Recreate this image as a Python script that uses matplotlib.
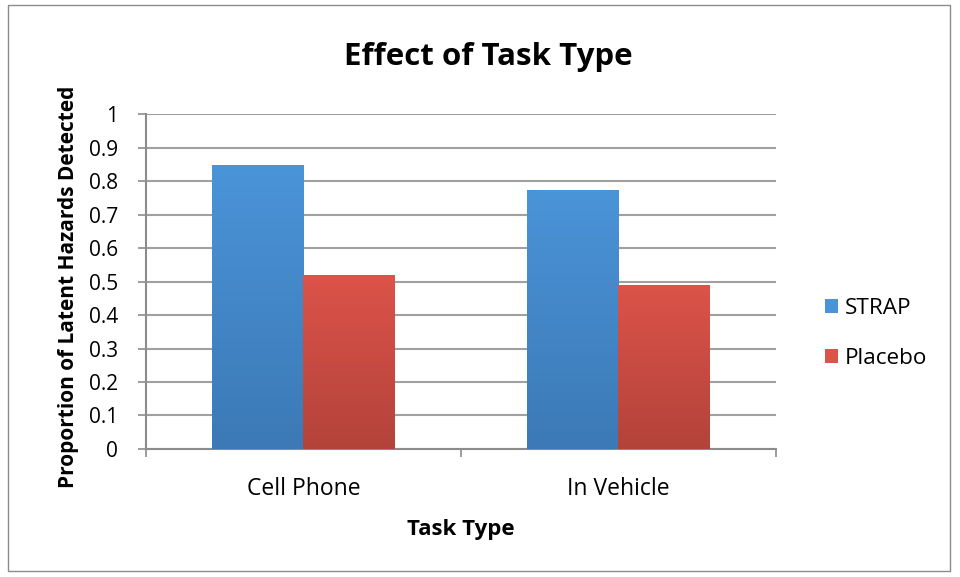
import numpy as np
import matplotlib
matplotlib.use("Agg")
import matplotlib.pyplot as plt
from matplotlib.colors import LinearSegmentedColormap
from matplotlib.patches import Rectangle, Patch

plt.rcParams['font.family'] = ['Open Sans', 'DejaVu Sans']

categories = ["Cell Phone", "In Vehicle"]
series = ["STRAP", "Placebo"]
strap = [0.846, 0.773]
placebo = [0.519, 0.490]

# top / bottom colours of the gradient fills
grad = {
    "STRAP": ("#4A94D8", "#3C79B6"),
    "Placebo": ("#DC5349", "#B3433A"),
}

fig = plt.figure(figsize=(9.6, 5.77), dpi=100)
ax = fig.add_axes([0.152, 0.222, 0.656, 0.580])

# outer chart border
fig.patches.append(Rectangle((8 / 960, 6 / 577), 942 / 960, 566 / 577,
                             transform=fig.transFigure, fill=False,
                             edgecolor="#8c8c8c", linewidth=1.0))

x = np.arange(len(categories))
w = 0.29
for vals, name, off in [(strap, "STRAP", -w / 2), (placebo, "Placebo", w / 2)]:
    top, bot = grad[name]
    cmap = LinearSegmentedColormap.from_list(name, [bot, top])
    bars = ax.bar(x + off, vals, w, color=top, zorder=2, linewidth=0)
    for b in bars:
        x0, y0 = b.get_x(), b.get_y()
        bw, bh = b.get_width(), b.get_height()
        g = np.linspace(0, 1, 256).reshape(-1, 1)
        ax.imshow(g, extent=[x0, x0 + bw, y0, y0 + bh], origin="lower",
                  aspect="auto", cmap=cmap, zorder=3)

ax.set_xlim(-0.5, 1.5)
ax.set_ylim(0, 1)
ax.set_yticks(np.arange(0, 1.01, 0.1))
ax.set_yticklabels(["0", "0.1", "0.2", "0.3", "0.4", "0.5", "0.6", "0.7", "0.8", "0.9", "1"])
ax.set_xticks(x)
ax.set_xticklabels(categories)
ax.set_xticks([-0.5, 0.5, 1.5], minor=True)
ax.tick_params(axis="x", which="major", length=0, pad=20, labelsize=16.5)
ax.tick_params(axis="x", which="minor", length=6, color="#8c8c8c", width=1.2)
ax.tick_params(axis="y", length=6, color="#8c8c8c", width=1.2, labelsize=15, pad=14)

ax.grid(axis="y", color="#a0a0a0", linewidth=1.5, zorder=0)
ax.set_axisbelow(True)
for s in ["top", "right"]:
    ax.spines[s].set_visible(False)
for s in ["left", "bottom"]:
    ax.spines[s].set_color("#8c8c8c")
    ax.spines[s].set_linewidth(1.5)

fig.text(488 / 960, 1 - 57 / 577, "Effect of Task Type", fontsize=22.5,
         fontweight="bold", ha="center", va="center")
ax.set_xlabel("Task Type", fontsize=16, fontweight="bold", labelpad=13)
ax.set_ylabel("Proportion of Latent Hazards Detected", fontsize=15,
              fontweight="bold", labelpad=10)
ax.yaxis.set_label_coords(-0.107, 0.485)

handles = [Patch(facecolor=grad[s][0], edgecolor="none") for s in series]
fig.legend(handles, series, loc="center left", bbox_to_anchor=(0.838, 0.422),
           frameon=False, fontsize=16.2, handlelength=0.6, handleheight=0.6,
           handletextpad=0.3, labelspacing=1.3)

fig.savefig("out.png", dpi=100)
